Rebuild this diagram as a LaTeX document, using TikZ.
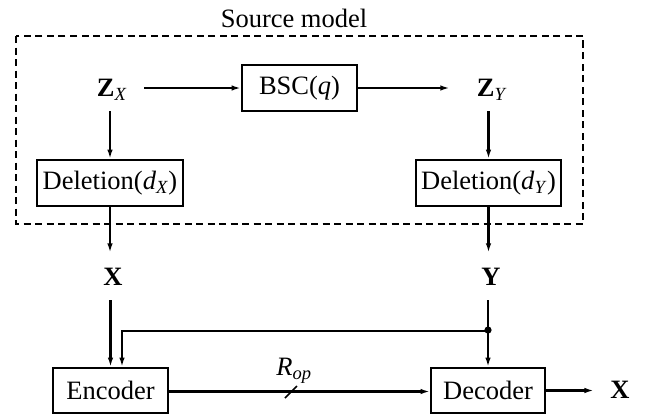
\documentclass[tikz,border=0pt]{standalone}
\usepackage{fontspec}
\setmainfont{Liberation Serif}
\usetikzlibrary{arrows.meta,calc}
\begin{document}
\begin{tikzpicture}[x=1pt,y=-1pt,
  every node/.style={font=\fontsize{26.5}{30}\selectfont},
  blk/.style={draw,line width=1.9pt,inner sep=0pt},
  lbl/.style={inner sep=0pt},
  arr/.style={-{Latex[length=9.5pt,width=5.5pt]}},
  thk/.style={line width=2.9pt},
  med/.style={line width=2.2pt},
  frame/.style={draw,line width=2pt,dash pattern=on 7pt off 4.5pt}]
\useasboundingbox (0,0) rectangle (656,415);
% source model frame
\node[lbl] (src) at (294,18) {Source model};
\draw[frame] (16,36) rectangle (583,224);
% nodes
\node[lbl,minimum width=64pt,minimum height=42pt] (zx) at (112,90) {\textbf{Z}\textsubscript{\textit{X}}};
\node[blk,minimum width=115pt,minimum height=46pt] (bsc) at (299.5,88) {BSC(\textit{q})};
\node[lbl,minimum width=84pt,minimum height=42pt] (zy) at (492,90) {\textbf{Z}\textsubscript{\textit{Y}}};
\node[blk,minimum width=146pt,minimum height=46pt] (d1) at (110,183) {Deletion(\textit{d}\textsubscript{\textit{X}})};
\node[blk,minimum width=145pt,minimum height=46pt] (d2) at (488.5,183) {Deletion(\textit{d}\textsubscript{\textit{Y}})};
\node[lbl,minimum height=47pt] (x) at (113,276.5) {\textbf{X}};
\node[lbl,minimum height=47pt] (y) at (491,276.5) {\textbf{Y}};
\node[blk,minimum width=115pt,minimum height=45pt] (enc) at (110.5,390.5) {Encoder};
\node[blk,minimum width=114pt,minimum height=45pt] (dec) at (488,390.5) {Decoder};
\node[lbl] (xo) at (620,390) {\textbf{X}};
\node[lbl] (rop) at (294,371) {\textit{R}\textsubscript{\textit{op}}};
\coordinate (dot) at ($(dec.north)+(0,-37)$);
\coordinate (fb) at (122,331);
% connectors
\draw[med,arr] (zx.east |- bsc.west) -- (bsc.west);
\draw[med,arr] (bsc.east) -- (zy.west |- bsc.east);
\draw[thk,arr] (d1.north |- zx.south) -- (d1.north);
\draw[thk,arr] (d2.north |- zy.south) -- (d2.north);
\draw[thk,arr] (d1.south) -- (d1.south |- x.north);
\draw[thk,arr] (d2.south) -- (d2.south |- y.north);
\draw[thk,arr] (enc.north |- x.south) -- (enc.north);
\draw[thk,arr] (dec.north |- y.south) -- (dec.north);
\draw[thk,arr] (dot) -- (fb -| dot) -- (fb) -- (fb |- enc.north);
\fill (dot) circle (3.6pt);
\draw[med,arr] (enc.east |- 0,391.5) -- (dec.west |- 0,391.5);
\draw[line width=1.5pt] ($(rop)+(-9,27)$) -- ($(rop)+(3,15)$);
\draw[med,arr] (dec.east) -- ($(dec.east)+(48,0)$);
\end{tikzpicture}
\end{document}
